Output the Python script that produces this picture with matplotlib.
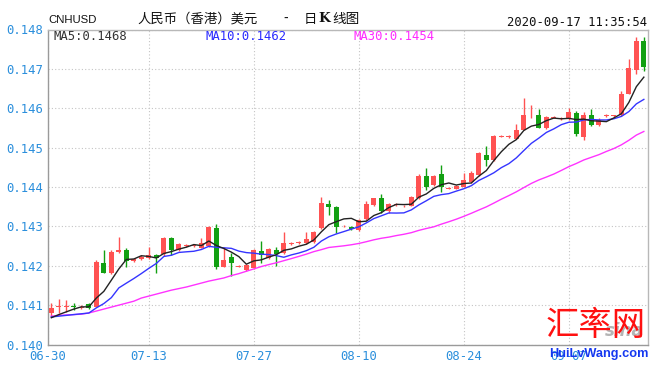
import numpy as np
import pandas as pd
import matplotlib
matplotlib.use("Agg")
import matplotlib.pyplot as plt

# ---------------- data ----------------
dates = pd.date_range("2020-06-30", "2020-09-17", freq="D")

opens = [0.14080, 0.14096, 0.14095, 0.14097, 0.14093, 0.14103, 0.14096, 0.14208, 0.14182, 0.14236,
         0.14240, 0.14213, 0.14216, 0.14219, 0.14227, 0.14229, 0.14270, 0.14240, 0.14250, 0.14250,
         0.14246, 0.14250, 0.14295, 0.14198, 0.14222, 0.14198, 0.14189, 0.14194, 0.14237, 0.14219,
         0.14240, 0.14232, 0.14255, 0.14257, 0.14257, 0.14261, 0.14295, 0.14358, 0.14350, 0.14300,
         0.14299, 0.14291, 0.14318, 0.14354, 0.14371, 0.14338, 0.14355, 0.14351, 0.14353, 0.14371,
         0.14428, 0.14405, 0.14432, 0.14395, 0.14396, 0.14401, 0.14413, 0.14430, 0.14481, 0.14468,
         0.14528, 0.14527, 0.14523, 0.14546, 0.14582, 0.14584, 0.14549, 0.14576, 0.14573, 0.14573,
         0.14588, 0.14527, 0.14584, 0.14557, 0.14581, 0.14580, 0.14582, 0.14637, 0.14697, 0.14771]
closes = [0.14093, 0.14098, 0.14097, 0.14094, 0.14096, 0.14093, 0.14210, 0.14182, 0.14236, 0.14239,
          0.14213, 0.14216, 0.14223, 0.14227, 0.14220, 0.14270, 0.14240, 0.14254, 0.14252, 0.14253,
          0.14257, 0.14298, 0.14197, 0.14214, 0.14207, 0.14200, 0.14202, 0.14239, 0.14227, 0.14242,
          0.14231, 0.14257, 0.14257, 0.14261, 0.14267, 0.14286, 0.14360, 0.14348, 0.14299, 0.14302,
          0.14293, 0.14316, 0.14356, 0.14371, 0.14338, 0.14358, 0.14357, 0.14353, 0.14375, 0.14428,
          0.14399, 0.14428, 0.14399, 0.14397, 0.14402, 0.14418, 0.14435, 0.14486, 0.14468, 0.14529,
          0.14530, 0.14529, 0.14546, 0.14584, 0.14584, 0.14551, 0.14578, 0.14578, 0.14575, 0.14590,
          0.14535, 0.14584, 0.14557, 0.14571, 0.14583, 0.14582, 0.14637, 0.14701, 0.14771, 0.14704]
highs = [0.14105, 0.14116, 0.14113, 0.14105, 0.14100, 0.14105, 0.14215, 0.14240, 0.14240, 0.14274,
         0.14246, 0.14220, 0.14227, 0.14248, 0.14229, 0.14274, 0.14272, 0.14257, 0.14255, 0.14256,
         0.14270, 0.14302, 0.14306, 0.14247, 0.14232, 0.14203, 0.14204, 0.14242, 0.14263, 0.14244,
         0.14248, 0.14286, 0.14260, 0.14263, 0.14286, 0.14289, 0.14375, 0.14367, 0.14352, 0.14304,
         0.14301, 0.14318, 0.14364, 0.14373, 0.14381, 0.14360, 0.14359, 0.14355, 0.14378, 0.14432,
         0.14447, 0.14430, 0.14456, 0.14399, 0.14404, 0.14435, 0.14440, 0.14490, 0.14504, 0.14532,
         0.14533, 0.14532, 0.14561, 0.14625, 0.14607, 0.14599, 0.14580, 0.14580, 0.14577, 0.14600,
         0.14592, 0.14590, 0.14599, 0.14574, 0.14585, 0.14584, 0.14643, 0.14726, 0.14782, 0.14782]
lows = [0.14070, 0.14080, 0.14083, 0.14088, 0.14090, 0.14091, 0.14094, 0.14181, 0.14180, 0.14232,
        0.14197, 0.14210, 0.14214, 0.14216, 0.14181, 0.14225, 0.14227, 0.14237, 0.14248, 0.14248,
        0.14244, 0.14248, 0.14193, 0.14196, 0.14174, 0.14196, 0.14186, 0.14192, 0.14206, 0.14217,
        0.14199, 0.14230, 0.14253, 0.14255, 0.14255, 0.14259, 0.14293, 0.14329, 0.14282, 0.14298,
        0.14291, 0.14289, 0.14316, 0.14352, 0.14333, 0.14333, 0.14353, 0.14349, 0.14351, 0.14369,
        0.14392, 0.14403, 0.14388, 0.14394, 0.14394, 0.14399, 0.14411, 0.14428, 0.14453, 0.14466,
        0.14526, 0.14525, 0.14521, 0.14544, 0.14575, 0.14549, 0.14547, 0.14574, 0.14571, 0.14571,
        0.14530, 0.14520, 0.14554, 0.14555, 0.14579, 0.14578, 0.14580, 0.14635, 0.14688, 0.14695]

# moving-average values at the start of the window (history before 06-30 is not shown)
ma5_head = [0.14068, 0.14076, 0.14083, 0.14090]
ma10_head = [0.14070, 0.14072, 0.14074, 0.14076, 0.14078, 0.14080, 0.14093, 0.14104, 0.14119]
ma30_head = [0.14072, 0.14074, 0.14075, 0.14076, 0.14077, 0.14080, 0.14085, 0.14090, 0.14095, 0.14100,
             0.14105, 0.14110, 0.14118, 0.14123, 0.14128, 0.14133, 0.14138, 0.14142, 0.14146, 0.14151,
             0.14156, 0.14161, 0.14165, 0.14169, 0.14175, 0.14180, 0.14186, 0.14192, 0.14198]

tick_dates = ["2020-06-30", "2020-07-13", "2020-07-27", "2020-08-10", "2020-08-24", "2020-09-07"]
tick_labels = ["06-30", "07-13", "07-27", "08-10", "08-24", "09-07"]
y_ticks = [0.140, 0.141, 0.142, 0.143, 0.144, 0.145, 0.146, 0.147, 0.148]

# ---------------- derived series ----------------
c = pd.Series(closes)
ma5 = c.rolling(5).mean().to_numpy()
ma5[:len(ma5_head)] = ma5_head
ma10 = c.rolling(10).mean().to_numpy()
ma10[:len(ma10_head)] = ma10_head
ma30 = c.rolling(30).mean().to_numpy()
ma30[:len(ma30_head)] = ma30_head

o = np.array(opens); cl = np.array(closes); h = np.array(highs); l = np.array(lows)
n = len(dates)
x = np.arange(n) + 0.5

RED = "#ff5252"
GREEN = "#12a012"
BLUE_TXT = "#2b8fdc"
MONO = "DejaVu Sans Mono"

W, H = 657, 369
fig = plt.figure(figsize=(W / 100, H / 100), dpi=100)
fig.patch.set_facecolor("white")
ax = fig.add_axes([47.6 / W, 1 - 344.5 / H, 600 / W, 315 / H])

ax.set_xlim(0, n)
ax.set_ylim(0.140, 0.148)

up = cl >= o
cols = np.where(up, RED, GREEN)
ax.vlines(x, l, h, colors=cols, linewidth=1.0, zorder=2)
body_bottom = np.minimum(o, cl)
body_h = np.maximum(np.abs(cl - o), 0.000014)
ax.bar(x, body_h, bottom=body_bottom, width=0.66, color=cols, linewidth=0, zorder=3)

ax.plot(x, ma30, color="#ff33ff", lw=1.0, zorder=4)
ax.plot(x, ma10, color="#3535ff", lw=1.0, zorder=4)
ax.plot(x, ma5, color="#222222", lw=1.0, zorder=5)

# ticks
pos = [dates.get_loc(pd.Timestamp(d)) + 0.5 for d in tick_dates]
pos[0] = 0
ax.set_xticks(pos)
ax.set_xticklabels(tick_labels)
ax.set_yticks(y_ticks)
ax.set_yticklabels([f"{v:.3f}" for v in y_ticks])
ax.tick_params(axis="both", length=0, labelcolor=BLUE_TXT, labelsize=8.8)
ax.tick_params(axis="y", pad=3)
ax.tick_params(axis="x", pad=4)
for lab in ax.get_xticklabels() + ax.get_yticklabels():
    lab.set_fontfamily(MONO)

ax.grid(True, color="#c4c4c4", linestyle=(0, (1, 2)), linewidth=0.8, zorder=0)
ax.set_axisbelow(True)
for side in ["left", "bottom"]:
    ax.spines[side].set_color("#9a9a9a")
    ax.spines[side].set_linewidth(1.0)
for side in ["top", "right"]:
    ax.spines[side].set_color("#b8b8b8")
    ax.spines[side].set_linewidth(1.0)


def ft(px, py, s, **kw):
    fig.text(px / W, 1 - py / H, s, **kw)


# header
ft(48, 20, "CNHUSD", fontsize=8.2, family=["Liberation Sans", "DejaVu Sans"],
   va="center", ha="left", color="#111111")
cjk = ["Noto Sans CJK SC", "DejaVu Sans"]
ft(137, 19, "人民币（香港）美元", fontsize=9.6, family=cjk, va="center", ha="left", color="#111111")
ft(286, 19, "-", fontsize=9.6, family=cjk, va="center", ha="center", color="#111111")
ft(304, 19, "日", fontsize=9.6, family=cjk, va="center", ha="left", color="#111111")
ft(318, 19, "K", fontsize=9.6, family=["DejaVu Serif"], weight="bold", va="center", ha="left",
   color="#111111")
ft(332, 19, "线图", fontsize=9.8, family=cjk, va="center", ha="left", color="#111111")
ft(647, 22, "2020-09-17 11:35:54", fontsize=8.8, family=MONO, va="center", ha="right", color="#111111")

# moving-average legends
ft(53, 36, "MA5:0.1468", fontsize=8.8, family=MONO, va="center", ha="left", color="#333333")
ft(205, 36, "MA10:0.1462", fontsize=8.8, family=MONO, va="center", ha="left", color="#2a2aff")
ft(353, 36, "MA30:0.1454", fontsize=8.8, family=MONO, va="center", ha="left", color="#ff2cff")

# watermark
ft(624, 331, "sina", fontsize=12, family="DejaVu Sans", style="italic", weight="bold",
   va="center", ha="center", color="#b4b4b4")
ft(596, 326, "汇率网", fontsize=24, family=cjk, va="center", ha="center", color="#ff1010")
ft(599, 354, "HuiLvWang.com", fontsize=9.2, family=["Liberation Sans", "DejaVu Sans"], weight="bold",
   va="center", ha="center", color="#1538f0")

fig.savefig("out.png", dpi=100, facecolor="white")
